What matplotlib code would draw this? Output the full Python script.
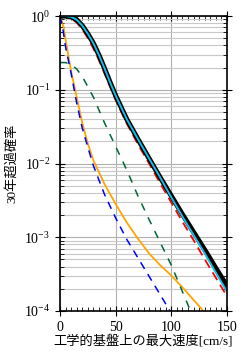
import numpy as np
import matplotlib
matplotlib.use('Agg')
import matplotlib.pyplot as plt
from matplotlib.ticker import MultipleLocator, LogLocator, NullFormatter

plt.rcParams['font.family'] = ['Liberation Serif', 'Noto Sans CJK JP']
plt.rcParams['mathtext.fontset'] = 'stix'

# velocity [cm/s] and 30-year exceedance probability per curve
v_total = [0, 5, 10, 15, 20, 25, 30, 35, 40, 45, 50, 60, 70, 80, 90, 100, 110, 120, 130, 140, 150]
p_total = [1.0, 1.0, 0.977, 0.891, 0.741, 0.575, 0.427, 0.295, 0.195, 0.126, 0.0832, 0.0398,
           0.0214, 0.0117, 0.00646, 0.00363, 0.00204, 0.00117, 0.000676, 0.000380, 0.000219]
p_cyan = [1.0, 1.0, 0.977, 0.891, 0.741, 0.575, 0.427, 0.295, 0.195, 0.126, 0.0832, 0.0398,
          0.0214, 0.0117, 0.00646, 0.00347, 0.00191, 0.00107, 0.000603, 0.000331, 0.000182]
p_red = [1.0, 0.99, 0.933, 0.813, 0.661, 0.501, 0.363, 0.251, 0.166, 0.110, 0.0724, 0.0347,
         0.0182, 0.0100, 0.00537, 0.00295, 0.00162, 0.000912, 0.000501, 0.000282, 0.000158]

v_green = [0, 5, 10, 15, 20, 25, 30, 40, 50, 60, 70, 80, 90, 100, 110, 120]
p_green = [0.234, 0.234, 0.219, 0.191, 0.151, 0.110, 0.0794, 0.0355, 0.0170, 0.00813,
           0.00363, 0.00174, 0.000851, 0.000417, 0.000182, 0.0000794]

v_blue = [0, 2, 5, 10, 15, 20, 25, 30, 40, 50, 60, 70, 80, 90, 100]
p_blue = [1.0, 0.759, 0.380, 0.166, 0.0661, 0.0302, 0.0166, 0.00933, 0.00380, 0.00182,
          0.000933, 0.000525, 0.000295, 0.000166, 0.0000933]

v_orange = [0, 3, 5, 10, 15, 20, 25, 30, 40, 50, 60, 70, 80, 90, 100, 110, 120, 130]
p_orange = [1.0, 0.724, 0.479, 0.178, 0.0794, 0.0355, 0.0186, 0.0110, 0.00525, 0.00282,
            0.00158, 0.000955, 0.000603, 0.000417, 0.000302, 0.000209, 0.000141, 0.0000955]

fig = plt.figure(figsize=(2.47, 3.57), dpi=100)
ax = fig.add_axes([0.243, 0.129, 0.676, 0.826])

ax.plot(v_orange, p_orange, color='#FFA500', lw=1.3)
ax.plot(v_blue, p_blue, color='#0000FF', lw=1.1, dashes=(5, 4))
ax.plot(v_green, p_green, color='#006633', lw=1.1, dashes=(5, 5))
ax.plot(v_total, p_red, color='#FF0000', lw=1.3, dashes=(5, 3))
ax.plot(v_total, p_total, color='black', lw=3.6)
ax.plot(v_total, p_cyan, color='#10C0E8', lw=1.4)

ax.set_yscale('log')
ax.set_xlim(0, 150)
ax.set_ylim(1e-4, 1)
ax.xaxis.set_major_locator(MultipleLocator(50))
ax.xaxis.set_minor_locator(MultipleLocator(5))
ax.yaxis.set_major_locator(LogLocator(base=10, numticks=10))
ax.yaxis.set_minor_locator(LogLocator(base=10, subs=np.arange(2, 10), numticks=20))
ax.yaxis.set_minor_formatter(NullFormatter())

ax.grid(True, which='major', axis='both', color='#b0b0b0', lw=0.8)
ax.grid(True, which='minor', axis='y', color='#c8c8c8', lw=0.8)
ax.set_axisbelow(True)

ax.tick_params(which='major', direction='inout', length=7, width=0.8,
               top=True, right=True, labelsize=10)
ax.tick_params(which='minor', direction='in', length=3, width=0.6, top=True, right=True)
for s in ax.spines.values():
    s.set_linewidth(1.2)

ax.set_xlabel('工学的基盤上の最大速度[cm/s]', fontsize=9.5, labelpad=1)
ax.set_ylabel('30年超過確率', fontsize=9.5, labelpad=4)

fig.savefig('out.png', dpi=100)
